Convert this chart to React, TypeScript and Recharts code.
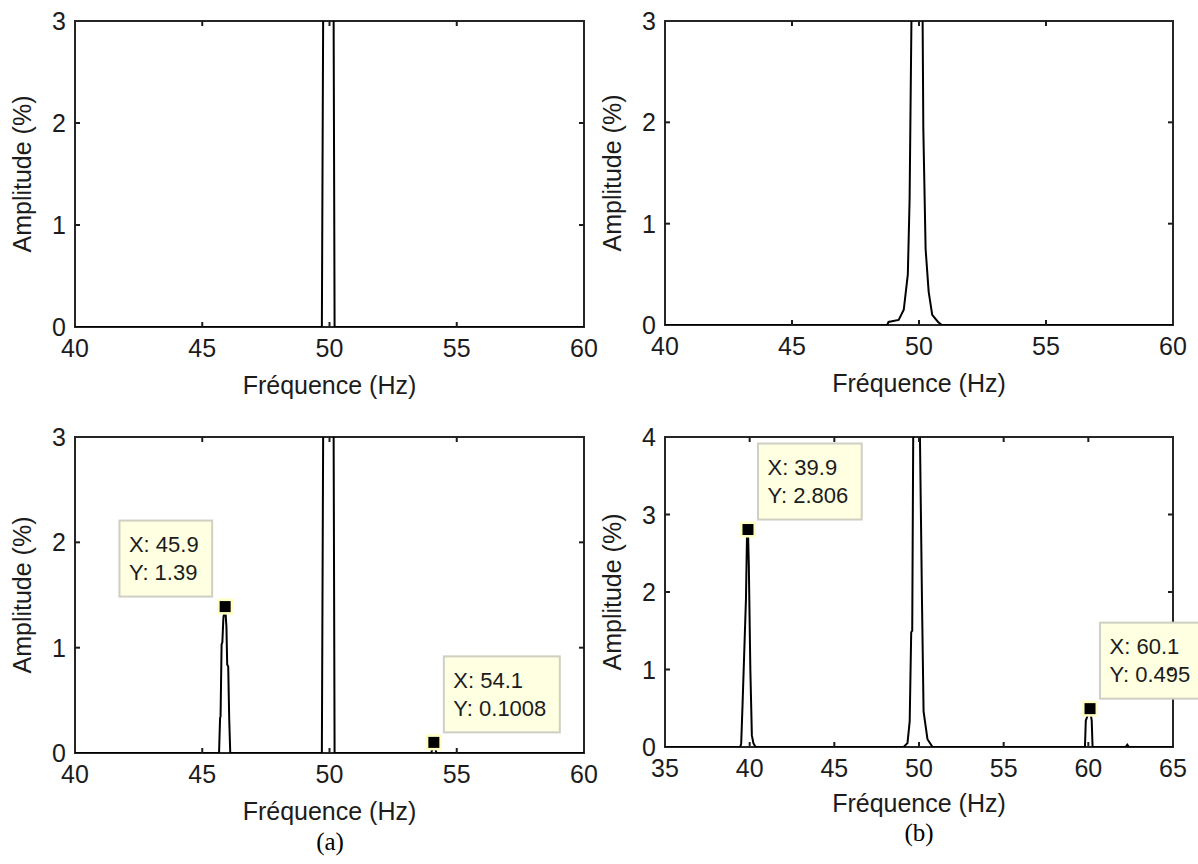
import React from "react";
import { LineChart, Line, XAxis, YAxis, ReferenceArea, ReferenceDot } from "recharts";

// (a) top: spectrum, 50 Hz only
const freqA1 = [40, 49.7, 49.8, 49.9, 50.0, 50.1, 50.2, 60];
const ampA1 = [0, 0, 6, 70, 100, 8, 0, 0];

// (a) bottom: 50 Hz + interharmonics at 45.9 and 54.1 Hz
const freqA2 = [40, 45.66, 45.7, 45.72, 45.76, 45.79, 45.83, 45.9, 45.95, 45.98, 46.02, 46.06, 46.1, 49.7, 49.8, 49.9, 50.0, 50.1, 50.2, 54.0, 54.1, 54.2, 60];
const ampA2 = [0, 0, 0.33, 0.35, 1.03, 1.05, 1.28, 1.39, 1.2, 0.84, 0.82, 0.32, 0, 0, 6, 70, 100, 8, 0, 0, 0.1008, 0, 0];

// (b) top: 50 Hz with leakage skirts
const freqB1 = [40, 48.75, 48.8, 49.2, 49.4, 49.56, 49.63, 49.71, 49.8, 49.9, 50.0, 50.1, 50.14, 50.17, 50.26, 50.38, 50.52, 50.75, 50.9, 60];
const ampB1 = [0, 0, 0.03, 0.05, 0.15, 0.5, 1.24, 3.2, 60, 100, 80, 20, 3.1, 1.94, 0.75, 0.33, 0.1, 0.03, 0, 0];

// (b) bottom: 50 Hz + components at 39.9 and 60.1 Hz
const freqB2 = [35, 39.45, 39.5, 39.58, 39.78, 39.84, 39.9, 39.95, 40.04, 40.13, 40.22, 40.35, 49.09, 49.32, 49.45, 49.54, 49.6, 49.66, 49.8, 49.9, 50.0, 50.05, 50.18, 50.27, 50.5, 50.8, 59.8, 59.85, 60.1, 60.2, 60.25, 62.2, 62.3, 62.4, 65];
const ampB2 = [0, 0, 0.05, 0.55, 1.9, 2.7, 2.806, 2.35, 1.0, 0.15, 0.05, 0, 0, 0.05, 0.33, 1.48, 1.5, 4.1, 70, 100, 60, 4.1, 1.83, 0.46, 0.1, 0, 0, 0.34, 0.495, 0.34, 0, 0, 0.03, 0, 0];

const ticksA = [40, 45, 50, 55, 60];
const ticksB = [35, 40, 45, 50, 55, 60, 65];
const ticks3 = [0, 1, 2, 3];
const ticks4 = [0, 1, 2, 3, 4];

const tipsA2 = [
  { x: 45.9, y: 1.39 },
  { x: 54.1, y: 0.1008 },
];
const tipsB2 = [
  { x: 39.9, y: 2.806 },
  { x: 60.1, y: 0.495 },
];

const FONT = "'Liberation Sans', Arial, sans-serif";
const INK = "#1c1c1c";
const YW = 50;
const XH = 80;

const toRows = (f: number[], a: number[]) => f.map((x, i) => ({ f: x, a: a[i] }));

let ctx: CanvasRenderingContext2D | null = null;
const measure = (s: string, size: number) => {
  if (!ctx) ctx = document.createElement("canvas").getContext("2d");
  if (!ctx) return s.length * size * 0.55;
  ctx.font = `${size}px 'Liberation Sans'`;
  return ctx.measureText(s).width;
};

type Rect = { x: number; y: number; w: number; h: number };

interface PanelProps {
  box: Rect;
  plot: Rect;
  rows: { f: number; a: number }[];
  xDomain: [number, number];
  xTicks: number[];
  yDomain: [number, number];
  yTicks: number[];
  tips?: { x: number; y: number }[];
  sides?: ("left" | "right")[];
  xLabelDy: number;
}

const Panel = ({ box, plot, rows, xDomain, xTicks, yDomain, yTicks, tips = [], sides = [], xLabelDy }: PanelProps) => {
  const margin = {
    top: plot.y - box.y,
    left: plot.x - box.x - YW,
    right: box.x + box.w - plot.x - plot.w,
    bottom: box.y + box.h - plot.y - plot.h - XH,
  };
  const pl = plot.x - box.x;
  const pt = plot.y - box.y;

  const XTick = ({ x, y, payload }: any) => {
    const v = payload.value;
    const inner = v !== xDomain[0] && v !== xDomain[1];
    return (
      <g>
        {inner && <line x1={x} x2={x} y1={y} y2={y - 5} stroke={INK} strokeWidth={2} />}
        {inner && <line x1={x} x2={x} y1={y - plot.h} y2={y - plot.h + 5} stroke={INK} strokeWidth={2} />}
        <text x={x} y={y + 21} textAnchor="middle" dominantBaseline="central" fontFamily={FONT} fontSize={25} fill={INK}>
          {v}
        </text>
      </g>
    );
  };

  const YTick = ({ x, y, payload }: any) => {
    const v = payload.value;
    const inner = v !== yDomain[0] && v !== yDomain[1];
    return (
      <g>
        {inner && <line x1={x} x2={x + 5} y1={y} y2={y} stroke={INK} strokeWidth={2} />}
        {inner && <line x1={x + plot.w} x2={x + plot.w - 5} y1={y} y2={y} stroke={INK} strokeWidth={2} />}
        <text x={x - 9} y={y} textAnchor="end" dominantBaseline="central" fontFamily={FONT} fontSize={25} fill={INK}>
          {v}
        </text>
      </g>
    );
  };

  const yLabel = () => {
    const cx = pl - 53;
    const cy = pt + plot.h / 2;
    return (
      <text x={cx} y={cy} transform={`rotate(-90, ${cx}, ${cy})`} textAnchor="middle" dominantBaseline="central" fontFamily={FONT} fontSize={25} fill={INK}>
        Amplitude (%)
      </text>
    );
  };

  const xLabel = () => (
    <text x={pl + plot.w / 2} y={pt + plot.h + xLabelDy} textAnchor="middle" dominantBaseline="central" fontFamily={FONT} fontSize={25} fill={INK}>
      Fréquence (Hz)
    </text>
  );

  const tipShape = (tip: { x: number; y: number }, side: "left" | "right") => (props: any) => {
    const { cx, cy } = props;
    const lines = [`X: ${tip.x}`, `Y: ${tip.y}`];
    const w = Math.max(...lines.map((l) => measure(l, 22))) + 23;
    const h = 76;
    const bx = side === "left" ? cx - 13 - w : cx + 10;
    const by = cy - 10 - h;
    return (
      <g>
        <rect x={bx} y={by} width={w} height={h} fill="#ffffe1" stroke="#cfcfc4" strokeWidth={2} />
        {lines.map((l, i) => (
          <text key={i} x={bx + 9.5} y={by + 24 + i * 28} dominantBaseline="central" fontFamily={FONT} fontSize={22} fill={INK}>
            {l}
          </text>
        ))}
        <rect x={cx - 6.75} y={cy - 6.75} width={13.5} height={13.5} fill="#000" stroke="#ffffc4" strokeWidth={2.5} />
      </g>
    );
  };

  return (
    <div style={{ position: "absolute", left: box.x, top: box.y, width: box.w, height: box.h }}>
      <LineChart width={box.w} height={box.h} data={rows} margin={margin}>
        <XAxis
          dataKey="f"
          type="number"
          domain={xDomain}
          ticks={xTicks}
          allowDataOverflow
          height={XH}
          axisLine={false}
          tickLine={false}
          tickSize={0}
          tickMargin={0}
          tick={<XTick />}
          interval={0}
          label={xLabel}
        />
        <YAxis
          type="number"
          domain={yDomain}
          ticks={yTicks}
          allowDataOverflow
          width={YW}
          axisLine={false}
          tickLine={false}
          tickSize={0}
          tickMargin={0}
          tick={<YTick />}
          interval={0}
          label={yLabel}
        />
        <ReferenceArea x1={xDomain[0]} x2={xDomain[1]} y1={yDomain[0]} y2={yDomain[1]} fill="none" stroke="#262626" strokeWidth={2} strokeOpacity={1} />
        <Line dataKey="a" type="linear" stroke="#000" strokeWidth={2} dot={false} activeDot={false} isAnimationActive={false} />
        {tips.map((t, i) => (
          <ReferenceDot key={i} x={t.x} y={t.y} r={7} shape={tipShape(t, sides[i] || "right")} />
        ))}
      </LineChart>
    </div>
  );
};

const Caption = ({ text, cx, cy }: { text: string; cx: number; cy: number }) => (
  <div
    style={{
      position: "absolute",
      left: cx - 50,
      top: cy - 15,
      width: 100,
      lineHeight: "30px",
      textAlign: "center",
      fontFamily: "'Liberation Serif', 'Times New Roman', serif",
      fontSize: 25,
      color: "#000",
    }}
  >
    {text}
  </div>
);

export default function App() {
  return (
    <div style={{ position: "absolute", left: 0, top: 0, width: 1198, height: 864, overflow: "hidden", background: "#fff" }}>
      <Panel
        box={{ x: 0, y: 0, w: 602, h: 420 }}
        plot={{ x: 75, y: 21, w: 509, h: 306 }}
        rows={toRows(freqA1, ampA1)}
        xDomain={[40, 60]}
        xTicks={ticksA}
        yDomain={[0, 3]}
        yTicks={ticks3}
        xLabelDy={58}
      />
      <Panel
        box={{ x: 596, y: 0, w: 602, h: 420 }}
        plot={{ x: 665, y: 21, w: 508, h: 304 }}
        rows={toRows(freqB1, ampB1)}
        xDomain={[40, 60]}
        xTicks={ticksA}
        yDomain={[0, 3]}
        yTicks={ticks3}
        xLabelDy={58}
      />
      <Panel
        box={{ x: 0, y: 420, w: 602, h: 444 }}
        plot={{ x: 75, y: 437, w: 509, h: 316 }}
        rows={toRows(freqA2, ampA2)}
        xDomain={[40, 60]}
        xTicks={ticksA}
        yDomain={[0, 3]}
        yTicks={ticks3}
        tips={tipsA2}
        sides={["left", "right"]}
        xLabelDy={58}
      />
      <Panel
        box={{ x: 596, y: 420, w: 602, h: 444 }}
        plot={{ x: 665, y: 437, w: 508, h: 310 }}
        rows={toRows(freqB2, ampB2)}
        xDomain={[35, 65]}
        xTicks={ticksB}
        yDomain={[0, 4]}
        yTicks={ticks4}
        tips={tipsB2}
        sides={["right", "right"]}
        xLabelDy={56}
      />
      <Caption text="(a)" cx={330} cy={842} />
      <Caption text="(b)" cx={919} cy={833} />
    </div>
  );
}
